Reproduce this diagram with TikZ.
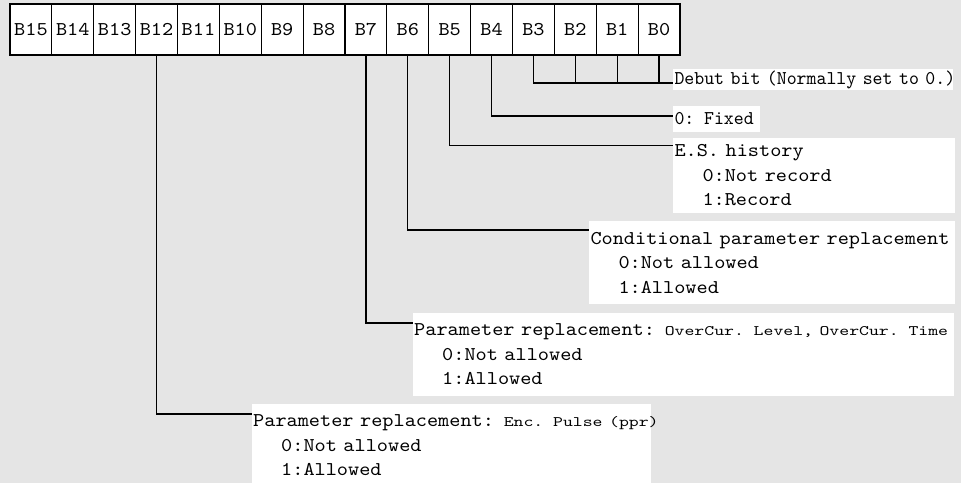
\documentclass[tikz,border=0pt]{standalone}
\usepackage{fontspec}
\setmainfont{lmmono10-regular}[Extension=.otf, FakeStretch=1.09]
\newfontfamily\dbgfont{lmmono10-regular}[Extension=.otf, FakeStretch=0.97]
\newfontfamily\smallfont{lmmono10-regular}[Extension=.otf, FakeStretch=1.3]
\usetikzlibrary{calc}
\definecolor{bg}{RGB}{229,229,229}
\newcommand{\sm}[1]{{\smallfont\fontsize{14.5bp}{24.5bp}\selectfont #1}}
\newcommand{\ind}{\hspace*{28bp}}
\tikzset{
  mainfnt/.style={font=\fontsize{19.5bp}{24.5bp}\selectfont},
  bitbox/.style={draw, line width=1.2bp, fill=white, minimum width=41.875bp,
    minimum height=51bp, inner sep=0pt, outer sep=0pt, anchor=north west, mainfnt},
  lbl/.style={fill=white, anchor=north west, inner xsep=1.5bp, inner ysep=0pt,
    outer sep=0pt, align=left, mainfnt},
  wire/.style={line width=1.3bp}
}
\begin{document}
\begin{tikzpicture}[x=1bp,y=-1bp]
\clip (0,0) rectangle (961,483);
\fill[bg] (0,0) rectangle (961,483);
% bit boxes
\foreach \i in {0,...,15}{
  \pgfmathtruncatemacro\k{15-\i}
  \node[bitbox] (b\k) at ({10+\i*41.875},4) {B\k};
}
% labels
\node[lbl, text width=277bp, minimum height=21bp, font=\dbgfont\fontsize{19.5bp}{24.5bp}\selectfont]
  (dbg) at (673,69) {\mbox{Debut bit (Normally set to 0.)}};
\node[lbl, text width=84bp, minimum height=26bp, font=\dbgfont\fontsize{19.5bp}{24.5bp}\selectfont]
  (fix) at (673,106) {\mbox{0: Fixed}};
\node[lbl, text width=279bp, minimum height=75bp] (es) at (673,138)
  {E.S. history\\\ind 0:Not record\\\ind 1:Record};
\node[lbl, text width=363bp, minimum height=83bp] (cond) at (589,221)
  {\mbox{Conditional parameter replacement}\\\ind 0:Not allowed\\\ind 1:Allowed};
\node[lbl, text width=538bp, minimum height=83bp] (ovc) at (412.7,312.7)
  {\mbox{Parameter replacement: \sm{OverCur. Level, OverCur. Time}}\\\ind 0:Not allowed\\\ind 1:Allowed};
\node[lbl, text width=396bp, minimum height=83bp] (enc) at (251.7,404)
  {\mbox{Parameter replacement: \sm{Enc. Pulse (ppr)}}\\\ind 0:Not allowed\\\ind 1:Allowed};
% connector entry points
\coordinate (dbgin) at ($(dbg.north west)+(0,14)$);
\coordinate (fixin) at ($(fix.north west)+(0,10)$);
\coordinate (esin) at ($(es.north west)+(0,7.5)$);
\coordinate (condin) at ($(cond.north west)+(0,9)$);
\coordinate (ovcin) at ($(ovc.north west)+(0,10.3)$);
\coordinate (encin) at ($(enc.north west)+(0,10)$);
% connectors
\draw[wire] (b3.south) |- (dbgin);
\draw[wire] (b2.south) -- (b2.south |- dbgin);
\draw[wire] (b1.south) -- (b1.south |- dbgin);
\draw[wire] (b0.south) -- (b0.south |- dbgin);
\draw[wire] (b4.south) |- (fixin);
\draw[wire] (b5.south) |- (esin);
\draw[wire] (b6.south) |- (condin);
\draw[wire] (b7.south) |- (ovcin);
\draw[wire] (b12.south) |- (encin);
\end{tikzpicture}
\end{document}
